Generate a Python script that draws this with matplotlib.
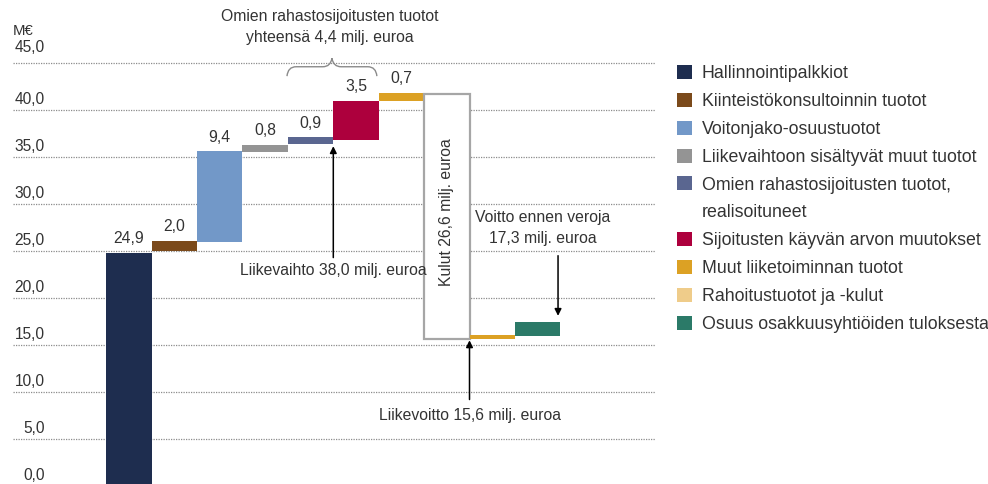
import matplotlib
matplotlib.use("Agg")
import matplotlib.pyplot as plt
from matplotlib.patches import Rectangle, PathPatch
from matplotlib.path import Path

# ---------------- data ----------------
categories = ["Hallinnointipalkkiot", "Kiinteistökonsultoinnin tuotot", "Voitonjako-osuustuotot",
              "Liikevaihtoon sisältyvät muut tuotot", "Omien rahastosijoitusten tuotot, realisoituneet",
              "Sijoitusten käyvän arvon muutokset", "Muut liiketoiminnan tuotot", "Kulut",
              "Rahoitustuotot ja -kulut", "Osuus osakkuusyhtiöiden tuloksesta"]
bar_bottoms = [0.0, 25.0, 26.0, 35.5, 36.35, 36.8, 41.0, 15.6, 15.6, 16.0]
bar_heights = [24.8, 1.1, 9.6, 0.8, 0.75, 4.2, 0.8, 26.1, 0.5, 1.45]
value_labels = ["24,9", "2,0", "9,4", "0,8", "0,9", "3,5", "0,7"]
y_ticks = [0, 5, 10, 15, 20, 25, 30, 35, 40, 45]
y_tick_labels = ["0,0", "5,0", "10,0", "15,0", "20,0", "25,0", "30,0", "35,0", "40,0", "45,0"]
legend_labels = ["Hallinnointipalkkiot", "Kiinteistökonsultoinnin tuotot", "Voitonjako-osuustuotot",
                 "Liikevaihtoon sisältyvät muut tuotot", "Omien rahastosijoitusten tuotot,",
                 "realisoituneet", "Sijoitusten käyvän arvon muutokset", "Muut liiketoiminnan tuotot",
                 "Rahoitustuotot ja -kulut", "Osuus osakkuusyhtiöiden tuloksesta"]
legend_colors = ["#1e2d4f", "#7b4a1b", "#7298c8", "#949494", "#5a6690", None,
                 "#ad003d", "#dca124", "#efcc8a", "#2b7a68"]
bar_colors = ["#1e2d4f", "#7b4a1b", "#7298c8", "#949494", "#5a6690", "#ad003d",
              "#dca124", "#ffffff", "#dca124", "#2b7a68"]

# ---------------- style ----------------
plt.rcParams['font.family'] = ['Liberation Sans', 'DejaVu Sans']
TXT = "#333333"
FS = 11.3
FS_TICK = 11.2
FS_LEG = 12.8

fig = plt.figure(figsize=(9.88, 4.84), dpi=100)
ax = fig.add_axes([0, 0, 1, 1])
ax.set_xlim(-2.841, 18.92)
ax.set_ylim(0.213, 51.70)
ax.axis("off")

# gridlines + tick labels
ax.hlines(y_ticks, -2.55, 11.59, colors="#8c8c8c", linestyles=(0, (1, 1)), lw=0.9, zorder=1)
for v, lab in zip(y_ticks, y_tick_labels):
    if v == 45:
        ax.text(-1.86, v + 1.12, lab, ha="right", va="baseline", fontsize=FS_TICK, color=TXT)
    else:
        ax.text(-1.86, v + 0.3, lab, ha="right", va="bottom", fontsize=FS_TICK, color=TXT)
ax.text(-2.55, 47.98, "M€", ha="left", va="baseline", fontsize=FS_TICK - 0.5, color=TXT)

# bars
x = list(range(len(categories)))
for i in x:
    if categories[i] == "Kulut":
        ax.bar(i, bar_heights[i], bottom=bar_bottoms[i], width=1.0, color="white",
               edgecolor="#a6a6a6", linewidth=1.6, zorder=3)
    else:
        ax.bar(i, bar_heights[i], bottom=bar_bottoms[i], width=1.0, color=bar_colors[i],
               linewidth=0, zorder=3)

for i, lab in enumerate(value_labels):
    ax.annotate(lab, (i, bar_bottoms[i] + bar_heights[i]), xytext=(0, 7), textcoords="offset points",
                ha="center", va="baseline", fontsize=FS, color=TXT, zorder=5)

# Kulut text
ax.text(7, 29.1, "Kulut 26,6 milj. euroa", rotation=90, ha="center", va="center",
        fontsize=FS, color=TXT, zorder=5)

arrow = dict(arrowstyle="-|>", color="black", lw=1.1, mutation_scale=10, shrinkA=0, shrinkB=0)
# Liikevaihto
ax.annotate("", xy=(4.5, 36.15), xytext=(4.5, 24.3), arrowprops=arrow, zorder=6)
ax.text(4.5, 22.9, "Liikevaihto 38,0 milj. euroa", ha="center", va="center", fontsize=FS, color=TXT)
# Liikevoitto
ax.annotate("", xy=(7.5, 15.5), xytext=(7.5, 9.2), arrowprops=arrow, zorder=6)
ax.text(7.5, 7.5, "Liikevoitto 15,6 milj. euroa", ha="center", va="center", fontsize=FS, color=TXT)
# Voitto ennen veroja
ax.annotate("", xy=(9.45, 18.1), xytext=(9.45, 24.5), arrowprops=arrow, zorder=6)
ax.text(9.12, 27.45, "Voitto ennen veroja\n17,3 milj. euroa", ha="center", va="center",
        fontsize=FS, color=TXT, linespacing=1.5)

# top annotation + brace
ax.text(4.43, 48.85, "Omien rahastosijoitusten tuotot\nyhteensä 4,4 milj. euroa", ha="center",
        va="center", fontsize=FS, color=TXT, linespacing=1.5)
xl, xr, xm = 3.48, 5.46, 4.47
yb, ym, yt = 43.6, 44.6, 45.5
verts = [(xl, yb), (xl + 0.02, ym), (xl + 0.2, ym),
         (xm - 0.2, ym), (xm - 0.03, ym), (xm, yt),
         (xm + 0.03, ym), (xm + 0.2, ym),
         (xr - 0.2, ym), (xr - 0.02, ym), (xr, yb)]
codes = [Path.MOVETO, Path.CURVE3, Path.CURVE3,
         Path.LINETO, Path.CURVE3, Path.CURVE3,
         Path.CURVE3, Path.CURVE3,
         Path.LINETO, Path.CURVE3, Path.CURVE3]
ax.add_patch(PathPatch(Path(verts, codes), fill=False, edgecolor="#8a8a8a", lw=1.0))

# legend
handles = []
for c in legend_colors:
    if c is None:
        handles.append(Rectangle((0, 0), 1, 1, facecolor="none", edgecolor="none"))
    else:
        handles.append(Rectangle((0, 0), 1, 1, facecolor=c, edgecolor="none"))
leg = fig.legend(handles, legend_labels, loc="upper left", bbox_to_anchor=(677 / 988, 1 - 65 / 484),
                 frameon=False, fontsize=FS_LEG, handlelength=0.84, handleheight=0.84,
                 handletextpad=0.56, labelspacing=0.6, borderpad=0, borderaxespad=0)
for t in leg.get_texts():
    t.set_color(TXT)

fig.savefig("out.png", dpi=100)
